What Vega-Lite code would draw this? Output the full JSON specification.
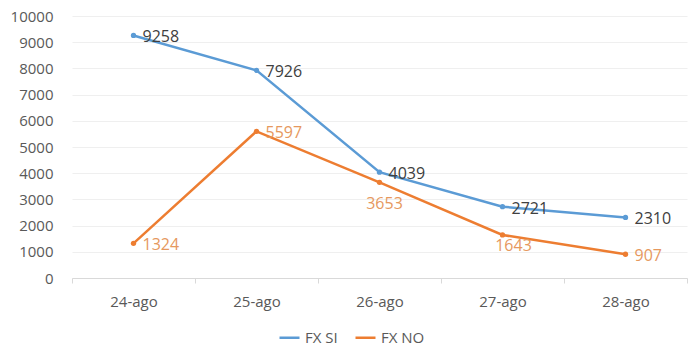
{
  "$schema": "https://vega.github.io/schema/vega-lite/v6.json",
  "width": 615,
  "height": 262,
  "autosize": "none",
  "padding": {"left": 72, "top": 16, "right": 13, "bottom": 79},
  "config": {"view": {"stroke": null}, "font": "Open Sans"},
  "data": {
    "values": [
      {"date": "24-ago", "series": "FX SI", "value": 9258},
      {"date": "25-ago", "series": "FX SI", "value": 7926},
      {"date": "26-ago", "series": "FX SI", "value": 4039},
      {"date": "27-ago", "series": "FX SI", "value": 2721},
      {"date": "28-ago", "series": "FX SI", "value": 2310},
      {"date": "24-ago", "series": "FX NO", "value": 1324},
      {"date": "25-ago", "series": "FX NO", "value": 5597},
      {"date": "26-ago", "series": "FX NO", "value": 3653},
      {"date": "27-ago", "series": "FX NO", "value": 1643},
      {"date": "28-ago", "series": "FX NO", "value": 907}
    ]
  },
  "encoding": {
    "x": {
      "field": "date",
      "type": "ordinal",
      "sort": null,
      "scale": {"type": "band", "paddingInner": 0, "paddingOuter": 0},
      "axis": {
        "title": null,
        "labelAngle": 0,
        "domainColor": "#D9D9D9",
        "tickColor": "#D9D9D9",
        "tickSize": 5,
        "tickBand": "extent",
        "labelFontSize": 15,
        "labelColor": "#595959",
        "labelPadding": 11,
        "grid": false
      }
    },
    "y": {
      "field": "value",
      "type": "quantitative",
      "scale": {"domain": [0, 10000]},
      "axis": {
        "title": null,
        "format": "d",
        "values": [0, 1000, 2000, 3000, 4000, 5000, 6000, 7000, 8000, 9000, 10000],
        "domain": false,
        "ticks": false,
        "grid": true,
        "gridColor": "#EFEFEF",
        "labelFontSize": 15,
        "labelColor": "#595959",
        "labelPadding": 19
      }
    },
    "color": {
      "field": "series",
      "type": "nominal",
      "scale": {"domain": ["FX SI", "FX NO"], "range": ["#5B9BD5", "#ED7D31"]},
      "legend": {
        "title": null,
        "orient": "none",
        "legendX": 206,
        "legendY": 310,
        "direction": "horizontal",
        "symbolType": "stroke",
        "symbolStrokeWidth": 2.5,
        "symbolSize": 400,
        "labelFontSize": 15,
        "labelColor": "#595959",
        "columnPadding": 12
      }
    }
  },
  "layer": [
    {"mark": {"type": "line", "strokeWidth": 2.5}},
    {"mark": {"type": "circle", "size": 28, "opacity": 1}},
    {
      "transform": [{"filter": "datum.series === 'FX SI'"}],
      "mark": {"type": "text", "align": "left", "baseline": "middle", "dx": 9, "dy": 2, "fontSize": 16},
      "encoding": {"text": {"field": "value", "type": "quantitative"}, "color": {"value": "#404040"}}
    },
    {
      "transform": [{"filter": "datum.series === 'FX NO' && datum.date !== '26-ago' && datum.date !== '27-ago'"}],
      "mark": {"type": "text", "align": "left", "baseline": "middle", "dx": 9, "dy": 2, "fontSize": 16},
      "encoding": {"text": {"field": "value", "type": "quantitative"}, "color": {"value": "#E6985E"}}
    },
    {
      "transform": [{"filter": "datum.series === 'FX NO' && datum.date === '26-ago'"}],
      "mark": {"type": "text", "align": "center", "baseline": "middle", "dx": 5, "dy": 22, "fontSize": 16},
      "encoding": {"text": {"field": "value", "type": "quantitative"}, "color": {"value": "#E6985E"}}
    },
    {
      "transform": [{"filter": "datum.series === 'FX NO' && datum.date === '27-ago'"}],
      "mark": {"type": "text", "align": "center", "baseline": "middle", "dx": 11, "dy": 11, "fontSize": 16},
      "encoding": {"text": {"field": "value", "type": "quantitative"}, "color": {"value": "#E6985E"}}
    }
  ]
}
